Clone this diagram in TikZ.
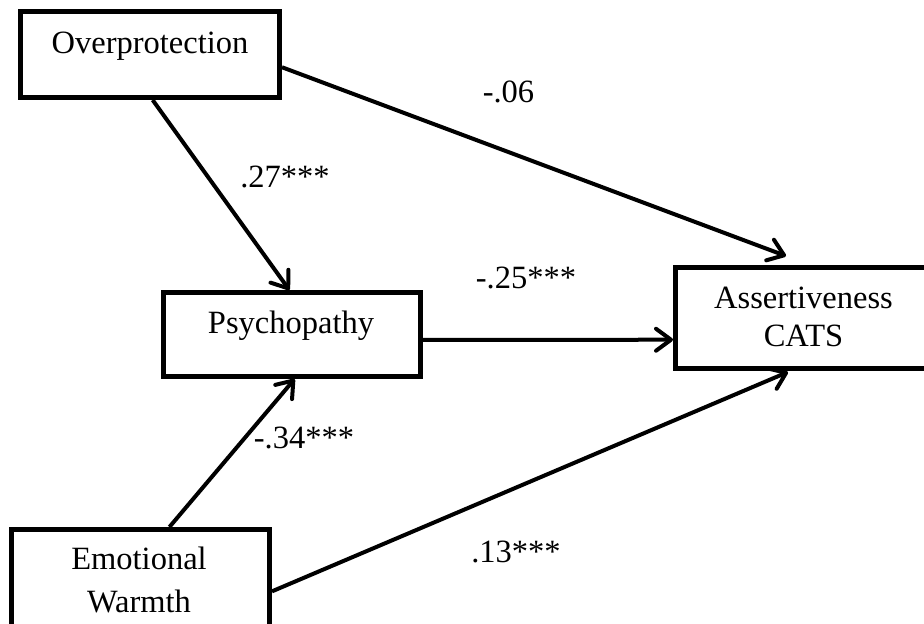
\documentclass[tikz,border=0pt]{standalone}
\usepackage{fontspec}
\setmainfont{Liberation Serif}
\usetikzlibrary{arrows.meta,calc}

\tikzset{
  varbox/.style={draw=black, line width=5pt, fill=white, rectangle, inner sep=0pt},
  boxtext/.style={anchor=base, inner sep=0pt, font=\fontsize{32.5}{38}\selectfont},
  coef/.style={anchor=base, inner sep=0pt, font=\fontsize{32.5}{38}\selectfont},
  conn/.style={draw=black, line width=4pt,
    -{Straight Barb[length=15pt, width=22pt, line cap=round, line join=round]}},
}

\begin{document}
\begin{tikzpicture}[x=1pt, y=-1pt]
  \clip (0,0) rectangle (924,624);
  \fill[white] (0,0) rectangle (924,624);

  % variable boxes
  \node[varbox, minimum width=259pt, minimum height=86pt]  (op) at (150,54.5) {};
  \node[varbox, minimum width=257pt, minimum height=84pt]  (ps) at (292,334.5) {};
  \node[varbox, minimum width=255pt, minimum height=101pt] (as) at (803,318) {};
  \node[varbox, minimum width=258pt, minimum height=112pt] (ew) at (140.5,585.5) {};

  % box labels
  \node[boxtext] (opt) at (150,53) {Overprotection};
  \node[boxtext] (pst) at (291,333) {Psychopathy};
  \node[boxtext] (ast1) at (803.5,308) {Assertiveness};
  \node[boxtext] (ast2) at (803.5,346) {CATS};
  \node[boxtext] (ewt1) at (139,569) {Emotional};
  \node[boxtext] (ewt2) at (139,612) {Warmth};

  % paths
  \draw[conn] ($(op.south west)!0.51!(op.south east)$) -- ($(ps.north west)!0.49!(ps.north east)$);
  \draw[conn] ($(op.north east)!0.64!(op.south east)$) -- ($(as.north west)+(113,-9)$);
  \draw[conn] ($(ps.north east)!0.56!(ps.south east)$) -- ($(as.north west)!0.705!(as.south west)$);
  \draw[conn] ($(ew.north west)!0.61!(ew.north east)$) -- ($(ps.south west)!0.51!(ps.south east)$);
  \draw[conn] ($(ew.north east)!0.55!(ew.south east)$) -- ($(as.south west)+(115,1)$);

  % path coefficients
  \node[coef] (c1) at (508.5,102) {-.06};
  \node[coef] (c2) at (285,187) {.27***};
  \node[coef] (c3) at (526,288) {-.25***};
  \node[coef] (c4) at (304,448) {-.34***};
  \node[coef] (c5) at (516,562) {.13***};
\end{tikzpicture}
\end{document}
